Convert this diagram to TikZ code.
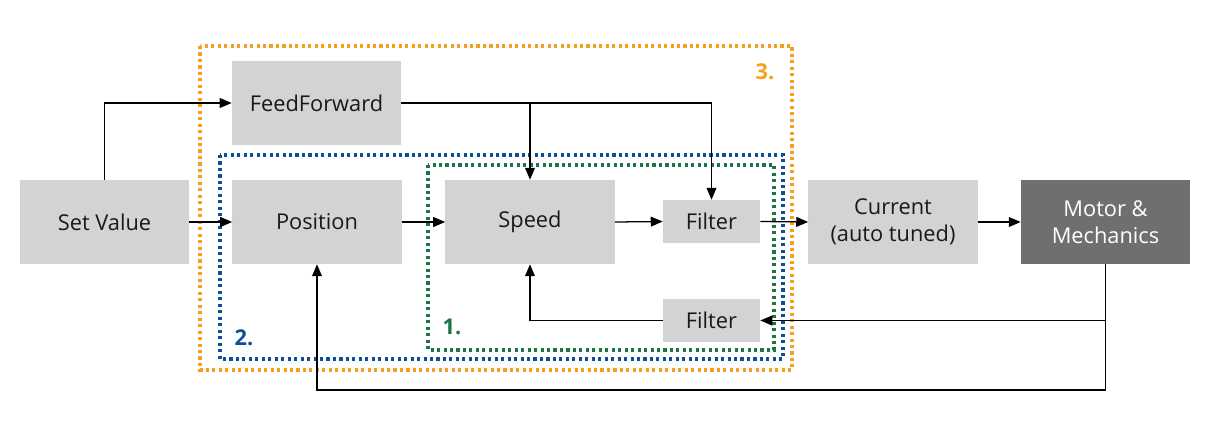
\documentclass[tikz,border=0pt]{standalone}
\usepackage{fontspec}
\setmainfont{Open Sans}
\usetikzlibrary{arrows.meta,positioning}
\definecolor{boxgray}{HTML}{D3D3D3}
\definecolor{darkbox}{HTML}{6F6F6F}
\definecolor{orng}{HTML}{F5A01E}
\definecolor{blu}{HTML}{0E4F9A}
\definecolor{grn}{HTML}{1E7446}
\begin{document}
\begin{tikzpicture}[x=0.025cm,y=-0.025cm,
  blk/.style={fill=boxgray,draw=none,minimum width=4.225cm,minimum height=2.1cm,inner sep=0pt,font=\fontsize{15.5}{19}\selectfont,align=center,text=black!90},
  smallblk/.style={blk,minimum width=2.425cm,minimum height=1.075cm},
  darkblk/.style={blk,fill=darkbox,text=white},
  conn/.style={line width=0.9pt,-{Triangle[length=8.5pt,width=7pt]}},
  dotbox/.style={line width=2.2pt,dash pattern=on 2.2pt off 2.4pt},
  lab/.style={font=\bfseries\fontsize{15.5}{19}\selectfont,inner sep=0pt}
]
\useasboundingbox (0,0) rectangle (1210,428);
% groups
\draw[dotbox,orng] (200,46) rectangle (792,370);
\draw[dotbox,blu] (220,155) rectangle (783,359);
\draw[dotbox,grn] (428,165) rectangle (774,350);
\node[lab,text=orng] (l3) at (765,72) {3.};
\node[lab,text=blu] (l2) at (244,338) {2.};
\node[lab,text=grn] (l1) at (452,327) {1.};
% blocks
\node[blk] (set) at (104.5,222) {Set Value};
\node[blk] (ff) at (316.5,103) {FeedForward};
\node[blk] (pos) at (317,222) {Position};
\node[blk] (spd) at (530,222) {Speed};
\node[smallblk] (f1) at (711.5,221.5) {Filter};
\node[smallblk] (f2) at (711.5,320.5) {Filter};
\node[blk] (cur) at (893,222) {Current\\(auto tuned)};
\node[darkblk] (mot) at (1105.5,222) {Motor \&\\Mechanics};
% connectors
\draw[conn] (set.north) |- (ff.west);
\draw[conn] (set.east) -- (pos.west);
\draw[conn] (ff.east) -| (f1.north);
\coordinate (br) at (spd.north |- ff.east);
\draw[conn] (br) -- (spd.north);
\draw[conn] (pos.east) -- (spd.west);
\draw[conn] (spd.east) -- (f1.west);
\draw[conn] (f1.east) -- (cur.west);
\draw[conn] (cur.east) -- (mot.west);
\coordinate (mb) at (mot.south |- 0,390);
\draw[conn] (mot.south) -- (mb) -| (pos.south);
\coordinate (mf) at (mot.south |- f2.east);
\draw[conn] (mf) -- (f2.east);
\draw[conn] (f2.west) -| (spd.south);
\end{tikzpicture}
\end{document}
